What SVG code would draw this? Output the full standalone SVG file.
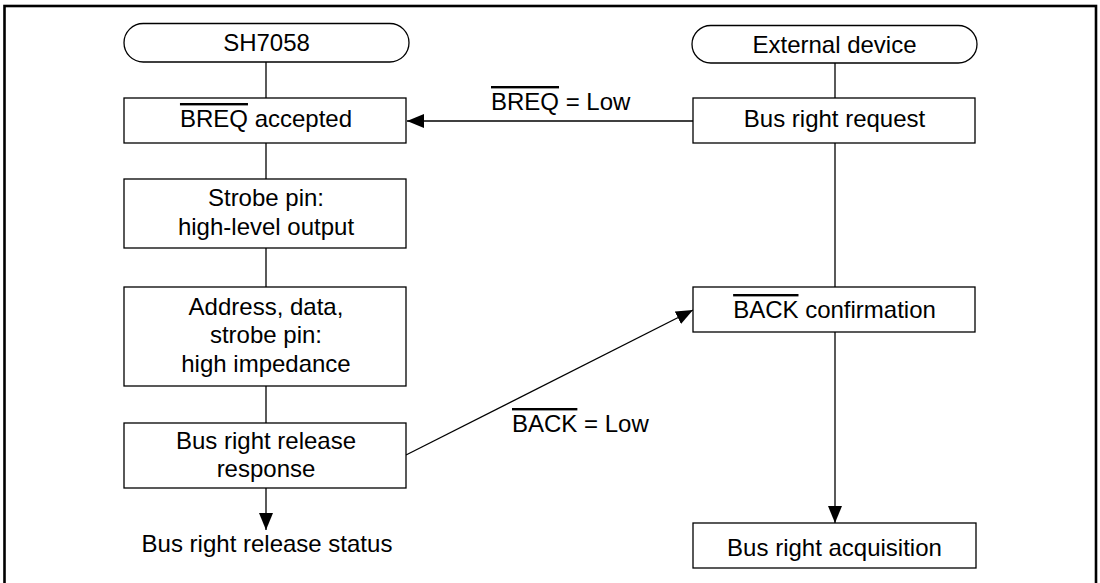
<svg xmlns="http://www.w3.org/2000/svg" width="1100" height="583" viewBox="0 0 1100 583">
<style>
.box{fill:#fff;stroke:#000;stroke-width:1.3}
.t{font-family:"Liberation Sans",Arial,sans-serif;font-size:24px;fill:#000;text-anchor:middle}
.l{font-family:"Liberation Sans",Arial,sans-serif;font-size:24px;fill:#000}
.c{stroke:#000;stroke-width:1.3;fill:none}
.ov{text-decoration:overline}
</style>
<defs>
<marker id="ah" markerUnits="userSpaceOnUse" markerWidth="17" markerHeight="14" refX="17" refY="7" orient="auto">
<path d="M0,0 L17,7 L0,14 z" fill="#000"/>
</marker>
</defs>
<rect x="4.5" y="6" width="1091.5" height="600" fill="#fff" stroke="#000" stroke-width="2.6"/>
<g id="connectors">
<line class="c" x1="266" y1="62" x2="266" y2="98"/>
<line class="c" x1="266" y1="143" x2="266" y2="179"/>
<line class="c" x1="266" y1="248" x2="266" y2="287"/>
<line class="c" x1="266" y1="386" x2="266" y2="423"/>
<line class="c" x1="266" y1="488" x2="266" y2="530" marker-end="url(#ah)"/>
<line class="c" x1="835" y1="63" x2="835" y2="98"/>
<line class="c" x1="835" y1="143" x2="835" y2="287"/>
<line class="c" x1="835" y1="332" x2="835" y2="523" marker-end="url(#ah)"/>
<line class="c" x1="693" y1="121" x2="407" y2="121" marker-end="url(#ah)"/>
<line class="c" x1="406" y1="455" x2="693" y2="310" marker-end="url(#ah)"/>
<text class="l" x="491" y="110"><tspan class="ov">BREQ</tspan> = Low</text>
<text class="l" x="512" y="432"><tspan class="ov">BACK</tspan> = Low</text>
</g>
<g id="sh7058">
<rect class="box" x="124" y="23.5" width="285" height="38.5" rx="19.25"/>
<text class="t" x="266.5" y="51">SH7058</text>
</g>
<g id="ext">
<rect class="box" x="692" y="25.5" width="285" height="37.5" rx="18.75"/>
<text class="t" x="834.5" y="53">External device</text>
</g>
<g id="breq-accepted">
<rect class="box" x="124" y="98" width="282" height="45"/>
<text class="t" x="266" y="127"><tspan class="ov">BREQ</tspan> accepted</text>
</g>
<g id="bus-request">
<rect class="box" x="693" y="98" width="282" height="45"/>
<text class="t" x="834.5" y="127">Bus right request</text>
</g>
<g id="strobe">
<rect class="box" x="124" y="179" width="282" height="69"/>
<text class="t" x="266" y="206">Strobe pin:</text>
<text class="t" x="266" y="235">high-level output</text>
</g>
<g id="address">
<rect class="box" x="124" y="287" width="282" height="99"/>
<text class="t" x="266" y="315">Address, data,</text>
<text class="t" x="266" y="343">strobe pin:</text>
<text class="t" x="266" y="372">high impedance</text>
</g>
<g id="release-response">
<rect class="box" x="124" y="423" width="282" height="65"/>
<text class="t" x="266" y="449">Bus right release</text>
<text class="t" x="266" y="477">response</text>
</g>
<g id="release-status">
<text class="t" x="267" y="552">Bus right release status</text>
</g>
<g id="back-confirm">
<rect class="box" x="693" y="287" width="282" height="45"/>
<text class="t" x="834.5" y="318"><tspan class="ov">BACK</tspan> confirmation</text>
</g>
<g id="acquisition">
<rect class="box" x="693" y="523" width="283" height="45"/>
<text class="t" x="834.5" y="556">Bus right acquisition</text>
</g>
</svg>
